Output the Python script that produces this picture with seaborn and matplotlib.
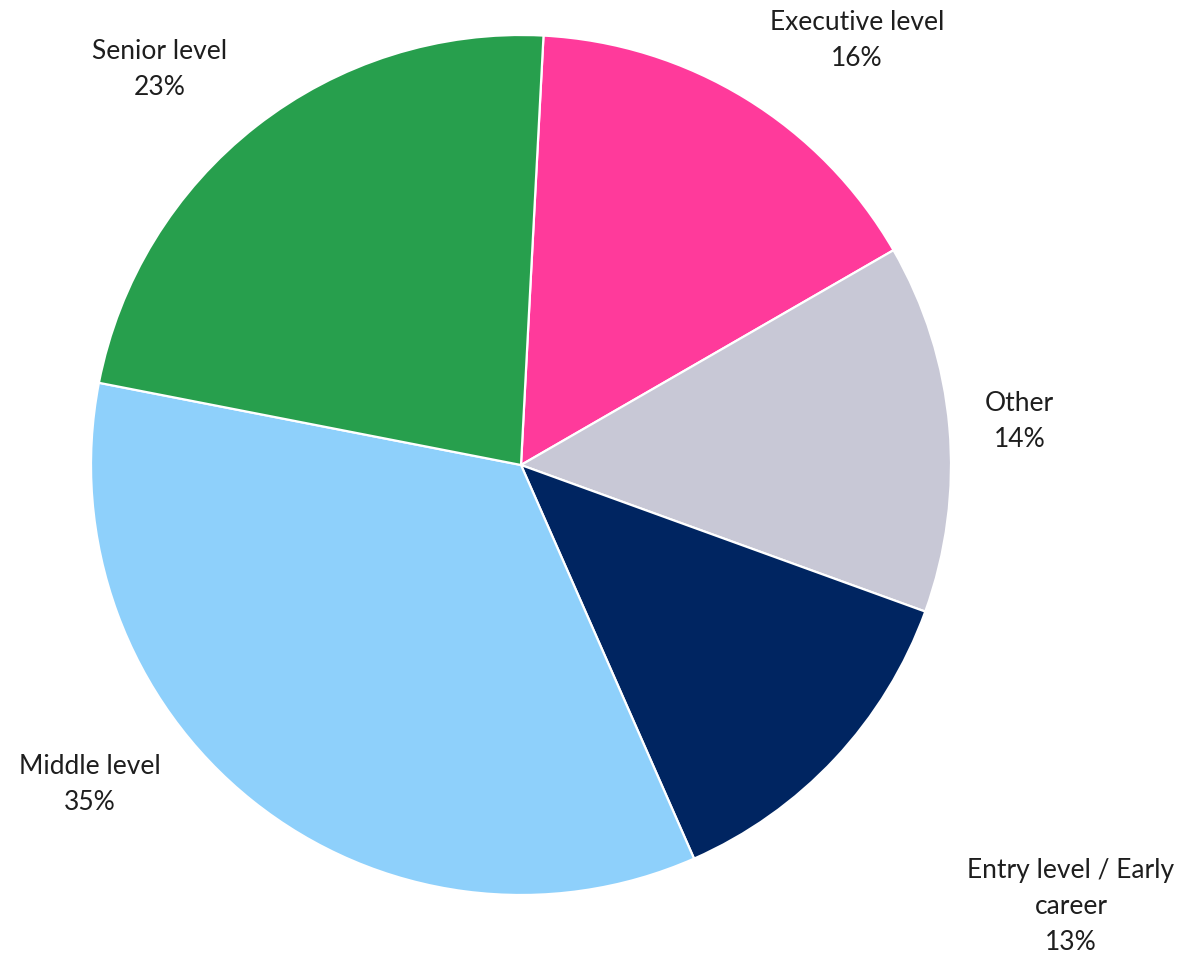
import matplotlib
matplotlib.use("Agg")
import matplotlib.pyplot as plt
import seaborn as sns

# Career level breakdown (percent)
categories = ["Executive level", "Other", "Entry level / Early\ncareer", "Middle level", "Senior level"]
shares = [16, 14, 13, 35, 23]
colors = ["#FF3A9B", "#C8C8D6", "#002561", "#8ED0FB", "#279F4D"]

# Label anchor points in pie-radius units
label_xy = [(0.781, 0.988), (1.160, 0.102), (1.279, -1.026), (-1.002, -0.742), (-0.840, 0.919)]

sns.set_theme(style="white")
plt.rcParams["font.family"] = ["Lato", "DejaVu Sans"]

fig = plt.figure(figsize=(11.83, 9.58), dpi=100)
ax = fig.add_axes([0, 0, 1, 1])

ax.pie(
    shares,
    colors=colors,
    startangle=87,
    counterclock=False,
    radius=1.0,
    wedgeprops=dict(edgecolor="white", linewidth=1.6),
)

for name, val, (x, y) in zip(categories, shares, label_xy):
    ax.text(x, y, f"{name}\n{val}%", ha="center", va="center", multialignment="center",
            fontsize=19, fontweight="normal", color="#1E1E1E", linespacing=1.55)

ax.set_xlim(-521 / 430, (1183 - 521) / 430)
ax.set_ylim((465 - 958) / 430, 465 / 430)
ax.set_aspect("equal")
ax.axis("off")

fig.savefig("out.png", dpi=100, facecolor="white")
